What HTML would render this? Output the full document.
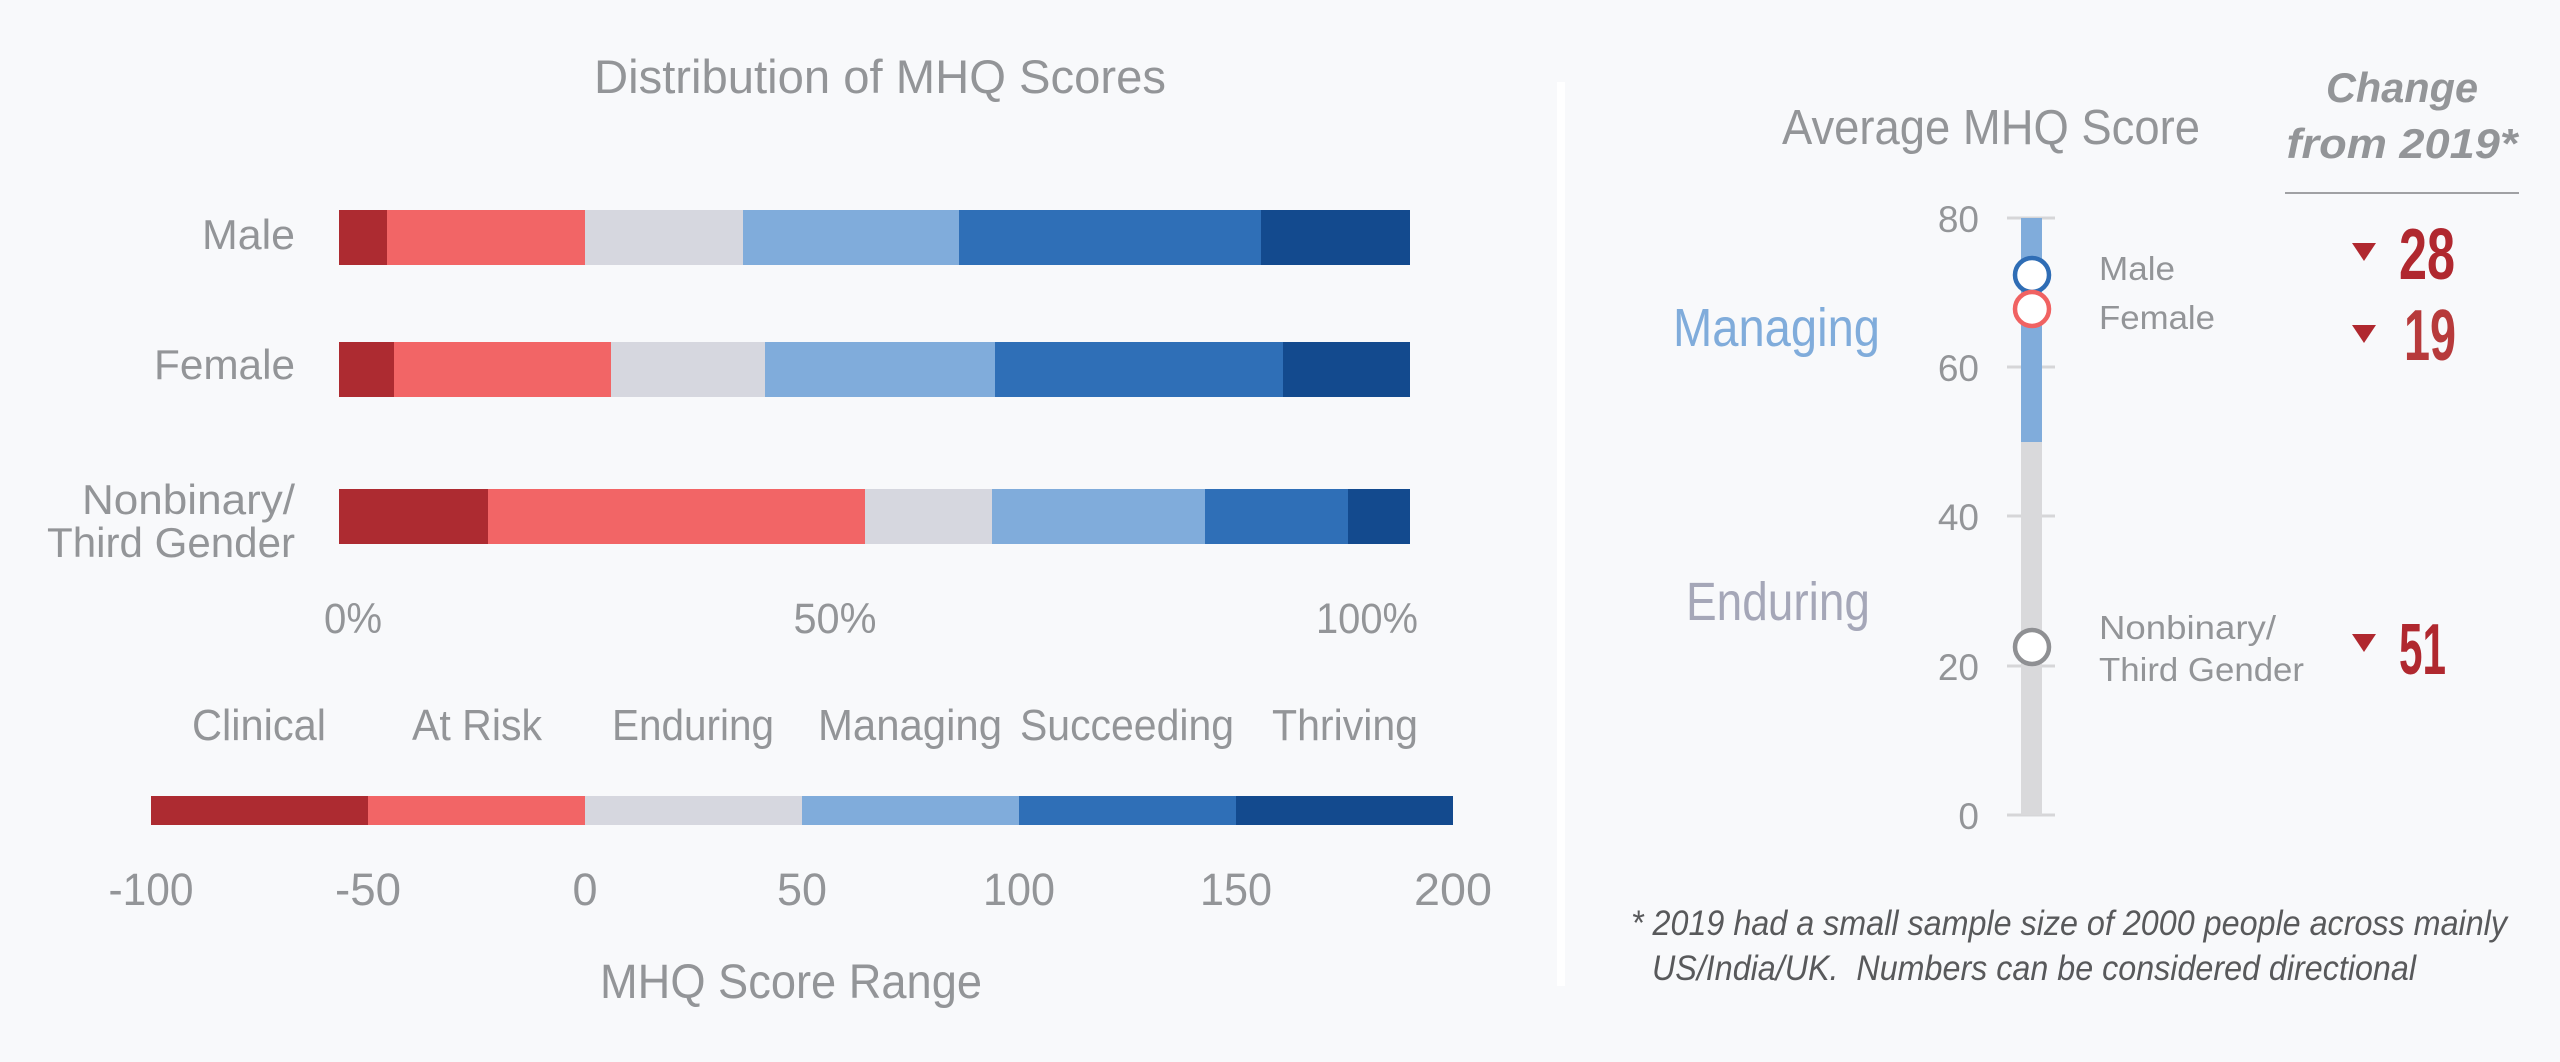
<!DOCTYPE html>
<html><head><meta charset="utf-8"><style>
html,body{margin:0;padding:0;background:#f8f9fb;}
svg{display:block;}
text{font-family:"Liberation Sans",sans-serif;}
</style></head><body>
<svg width="2560" height="1062" viewBox="0 0 2560 1062" xmlns="http://www.w3.org/2000/svg">
<rect x="0" y="0" width="2560" height="1062" fill="#f8f9fb"/>
<!-- Left panel -->
<text x="594" y="93" font-size="47" fill="#939598" textLength="572" lengthAdjust="spacingAndGlyphs">Distribution of MHQ Scores</text>

<g font-size="42" fill="#939598" text-anchor="end">
<text x="295" y="249" textLength="93" lengthAdjust="spacingAndGlyphs">Male</text>
<text x="295" y="379" textLength="141" lengthAdjust="spacingAndGlyphs">Female</text>
<text x="295" y="514" textLength="213" lengthAdjust="spacingAndGlyphs">Nonbinary/</text>
<text x="295" y="557" textLength="248" lengthAdjust="spacingAndGlyphs">Third Gender</text>
</g>

<!-- Male bar -->
<g>
<rect x="339" y="210" width="48" height="55" fill="#ad2b31"/>
<rect x="387" y="210" width="198" height="55" fill="#f26566"/>
<rect x="585" y="210" width="158" height="55" fill="#d6d7df"/>
<rect x="743" y="210" width="216" height="55" fill="#80acdb"/>
<rect x="959" y="210" width="302" height="55" fill="#2f6fb7"/>
<rect x="1261" y="210" width="149" height="55" fill="#134a8e"/>
</g>
<!-- Female bar -->
<g>
<rect x="339" y="342" width="55" height="55" fill="#ad2b31"/>
<rect x="394" y="342" width="217" height="55" fill="#f26566"/>
<rect x="611" y="342" width="154" height="55" fill="#d6d7df"/>
<rect x="765" y="342" width="230" height="55" fill="#80acdb"/>
<rect x="995" y="342" width="288" height="55" fill="#2f6fb7"/>
<rect x="1283" y="342" width="127" height="55" fill="#134a8e"/>
</g>
<!-- Nonbinary bar -->
<g>
<rect x="339" y="489" width="149" height="55" fill="#ad2b31"/>
<rect x="488" y="489" width="377" height="55" fill="#f26566"/>
<rect x="865" y="489" width="127" height="55" fill="#d6d7df"/>
<rect x="992" y="489" width="213" height="55" fill="#80acdb"/>
<rect x="1205" y="489" width="143" height="55" fill="#2f6fb7"/>
<rect x="1348" y="489" width="62" height="55" fill="#134a8e"/>
</g>

<g font-size="43" fill="#939598" text-anchor="middle">
<text x="353" y="633" textLength="58" lengthAdjust="spacingAndGlyphs">0%</text>
<text x="835" y="633" textLength="83" lengthAdjust="spacingAndGlyphs">50%</text>
<text x="1367" y="633" textLength="102" lengthAdjust="spacingAndGlyphs">100%</text>
</g>

<g font-size="44" fill="#939598">
<text x="192" y="740" textLength="134" lengthAdjust="spacingAndGlyphs">Clinical</text>
<text x="412" y="740" textLength="130" lengthAdjust="spacingAndGlyphs">At Risk</text>
<text x="612" y="740" textLength="162" lengthAdjust="spacingAndGlyphs">Enduring</text>
<text x="818" y="740" textLength="184" lengthAdjust="spacingAndGlyphs">Managing</text>
<text x="1020" y="740" textLength="214" lengthAdjust="spacingAndGlyphs">Succeeding</text>
<text x="1272" y="740" textLength="146" lengthAdjust="spacingAndGlyphs">Thriving</text>
</g>

<g>
<rect x="151" y="796" width="217" height="29" fill="#ad2b31"/>
<rect x="368" y="796" width="217" height="29" fill="#f26566"/>
<rect x="585" y="796" width="217" height="29" fill="#d6d7df"/>
<rect x="802" y="796" width="217" height="29" fill="#80acdb"/>
<rect x="1019" y="796" width="217" height="29" fill="#2f6fb7"/>
<rect x="1236" y="796" width="217" height="29" fill="#134a8e"/>
</g>

<g font-size="45" fill="#939598" text-anchor="middle">
<text x="151" y="905" textLength="85" lengthAdjust="spacingAndGlyphs">-100</text>
<text x="368" y="905" textLength="66" lengthAdjust="spacingAndGlyphs">-50</text>
<text x="585" y="905">0</text>
<text x="802" y="905" textLength="50" lengthAdjust="spacingAndGlyphs">50</text>
<text x="1019" y="905" textLength="72" lengthAdjust="spacingAndGlyphs">100</text>
<text x="1236" y="905" textLength="72" lengthAdjust="spacingAndGlyphs">150</text>
<text x="1453" y="905" textLength="78" lengthAdjust="spacingAndGlyphs">200</text>
</g>
<text x="600" y="998" font-size="48" fill="#939598" textLength="382" lengthAdjust="spacingAndGlyphs">MHQ Score Range</text>

<!-- separator -->
<rect x="1557" y="82" width="8" height="904" fill="#ffffff"/>

<!-- Right panel -->
<text x="1782" y="144" font-size="49" fill="#939598" textLength="418" lengthAdjust="spacingAndGlyphs">Average MHQ Score</text>

<g font-size="42" fill="#939598" font-weight="bold" font-style="italic" text-anchor="middle">
<text x="2402" y="102" textLength="152" lengthAdjust="spacingAndGlyphs">Change</text>
<text x="2402" y="158" textLength="231" lengthAdjust="spacingAndGlyphs">from 2019*</text>
</g>
<line x1="2285" y1="193" x2="2519" y2="193" stroke="#a0a1a4" stroke-width="2"/>

<text x="1673" y="346" font-size="54" fill="#80acdb" textLength="207" lengthAdjust="spacingAndGlyphs">Managing</text>
<text x="1686" y="620" font-size="54" fill="#a5a7b8" textLength="184" lengthAdjust="spacingAndGlyphs">Enduring</text>

<g stroke="#d6d6d8" stroke-width="3">
<line x1="2007" y1="218" x2="2055" y2="218"/>
<line x1="2007" y1="367" x2="2055" y2="367"/>
<line x1="2007" y1="516" x2="2055" y2="516"/>
<line x1="2007" y1="666" x2="2055" y2="666"/>
<line x1="2007" y1="815" x2="2055" y2="815"/>
</g>
<g font-size="37" fill="#939598" text-anchor="end">
<text x="1979" y="232">80</text>
<text x="1979" y="381">60</text>
<text x="1979" y="530">40</text>
<text x="1979" y="680">20</text>
<text x="1979" y="829">0</text>
</g>
<rect x="2021" y="218" width="21" height="224" fill="#80acdb"/>
<rect x="2021" y="442" width="21" height="373" fill="#d9d9db"/>

<circle cx="2032" cy="275" r="17" fill="#ffffff" stroke="#2f6db5" stroke-width="4.5"/>
<circle cx="2032" cy="309" r="17" fill="#ffffff" stroke="#f06262" stroke-width="4.5"/>
<circle cx="2032" cy="647" r="17" fill="#ffffff" stroke="#8f9093" stroke-width="4.5"/>

<g font-size="33" fill="#939598">
<text x="2099" y="280" textLength="76" lengthAdjust="spacingAndGlyphs">Male</text>
<text x="2099" y="329" textLength="116" lengthAdjust="spacingAndGlyphs">Female</text>
<text x="2099" y="639" textLength="177" lengthAdjust="spacingAndGlyphs">Nonbinary/</text>
<text x="2099" y="681" textLength="205" lengthAdjust="spacingAndGlyphs">Third Gender</text>
</g>

<g fill="#b0282f">
<polygon points="2352,243 2376,243 2364,261"/>
<polygon points="2352,325 2376,325 2364,343"/>
<polygon points="2352,634 2376,634 2364,652"/>
</g>
<g font-size="72" font-weight="bold" fill="#b0282f">
<text x="2399" y="279" textLength="56" lengthAdjust="spacingAndGlyphs">28</text>
<text x="2404" y="360" textLength="52" lengthAdjust="spacingAndGlyphs" fill="#b73a3b">19</text>
<text x="2399" y="674" textLength="47" lengthAdjust="spacingAndGlyphs">51</text>
</g>

<g font-size="35" font-style="italic" fill="#58595b">
<text x="1631" y="935" textLength="876" lengthAdjust="spacingAndGlyphs">* 2019 had a small sample size of 2000 people across mainly</text>
<text x="1652" y="980" textLength="764" lengthAdjust="spacingAndGlyphs" xml:space="preserve" style="white-space:pre">US/India/UK.  Numbers can be considered directional</text>
</g>
</svg>
</body></html>
